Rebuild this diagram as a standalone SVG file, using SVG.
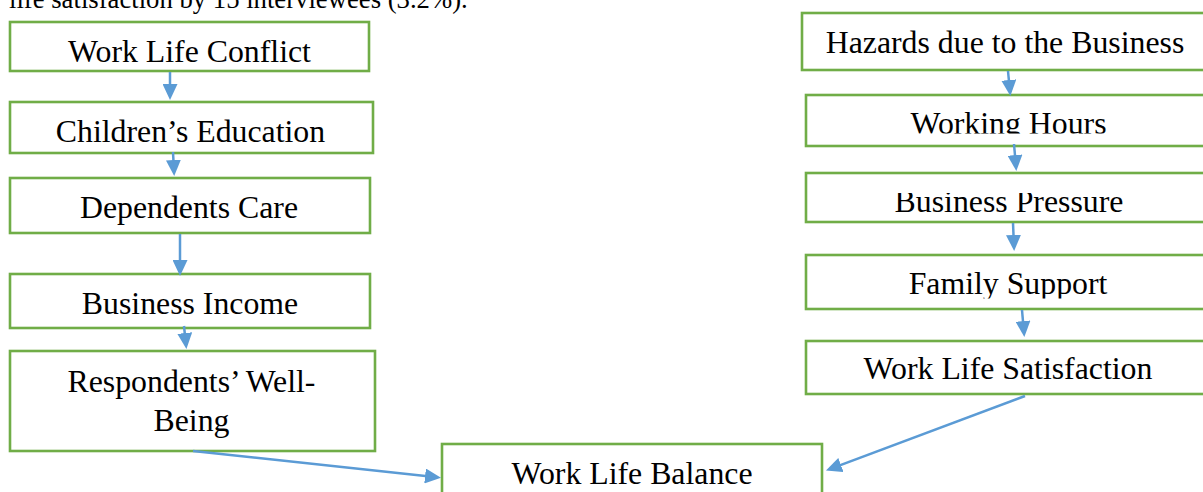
<svg xmlns="http://www.w3.org/2000/svg" width="1203" height="492" viewBox="0 0 1203 492">
<style>
.box{fill:#ffffff;stroke:#70AD47;stroke-width:2.6}
.t{font-family:"Liberation Serif","Times New Roman",serif;font-size:31.8px;fill:#000;text-anchor:middle}
.top{font-family:"Liberation Serif","Times New Roman",serif;font-size:26.7px;fill:#000}
.c{fill:none;stroke:#5B9BD5;stroke-width:2.5;marker-end:url(#ah)}
</style>
<defs>
<marker id="ah" viewBox="0 0 16 15" markerWidth="6.4" markerHeight="6" refX="12" refY="7.5" orient="auto">
<path d="M0,0 L16,7.5 L0,15 z" fill="#5B9BD5"/>
</marker>
<clipPath id="cp1"><rect x="10" y="22" width="359" height="40"/></clipPath>
<clipPath id="cp7"><rect x="806" y="95" width="410" height="38.5"/></clipPath>
<clipPath id="cp8"><rect x="806" y="193" width="410" height="29"/></clipPath>
<clipPath id="cp9"><rect x="806" y="255" width="410" height="43.5"/></clipPath>
</defs>
<rect width="1203" height="492" fill="#ffffff"/>
<text class="top" x="9" y="8">life satisfaction by 15 interviewees (3.2%).</text>

<g id="n1"><rect class="box" x="10" y="22" width="359" height="49"/><text class="t" x="189.5" y="62" clip-path="url(#cp1)">Work Life Conflict</text></g>
<g id="n2"><rect class="box" x="10" y="102" width="363" height="51"/><text class="t" x="190.5" y="142">Children’s Education</text></g>
<g id="n3"><rect class="box" x="10" y="178" width="360" height="55"/><text class="t" x="189" y="218">Dependents Care</text></g>
<g id="n4"><rect class="box" x="10" y="274" width="360" height="54"/><text class="t" x="190" y="314">Business Income</text></g>
<g id="n5"><rect class="box" x="10" y="351" width="365" height="100"/><text class="t" x="191.5" y="392">Respondents’ Well-</text><text class="t" x="191.5" y="431">Being</text></g>

<g id="n6"><rect class="box" x="802" y="13" width="412" height="57"/><text class="t" x="1005" y="53">Hazards due to the Business</text></g>
<g id="n7"><rect class="box" x="806" y="95" width="410" height="51"/><text class="t" x="1008.5" y="134" clip-path="url(#cp7)">Working Hours</text></g>
<g id="n8"><rect class="box" x="806" y="173" width="410" height="49"/><text class="t" x="1009" y="212" clip-path="url(#cp8)">Business Pressure</text></g>
<g id="n9"><rect class="box" x="806" y="255" width="410" height="54"/><text class="t" x="1008" y="294" clip-path="url(#cp9)">Family Support</text></g>
<g id="n10"><rect class="box" x="806" y="341" width="410" height="53"/><text class="t" x="1008" y="379">Work Life Satisfaction</text></g>

<g id="n11"><rect class="box" x="442" y="444" width="380" height="60"/><text class="t" x="632" y="484">Work Life Balance</text></g>

<g id="connectors">
<path class="c" d="M170,72 L170,96"/>
<path class="c" d="M173,152 L174,172"/>
<path class="c" d="M180,234 L180,272"/>
<path class="c" d="M184,326 L186,345"/>
<path class="c" d="M193,451 L437,477.2"/>
<path class="c" d="M1008,71 L1010,92"/>
<path class="c" d="M1014,144 L1016,167"/>
<path class="c" d="M1013,223 L1014,247"/>
<path class="c" d="M1022,310 L1024,333"/>
<path class="c" d="M1025,396 L829.7,469.2"/>
</g>
</svg>
